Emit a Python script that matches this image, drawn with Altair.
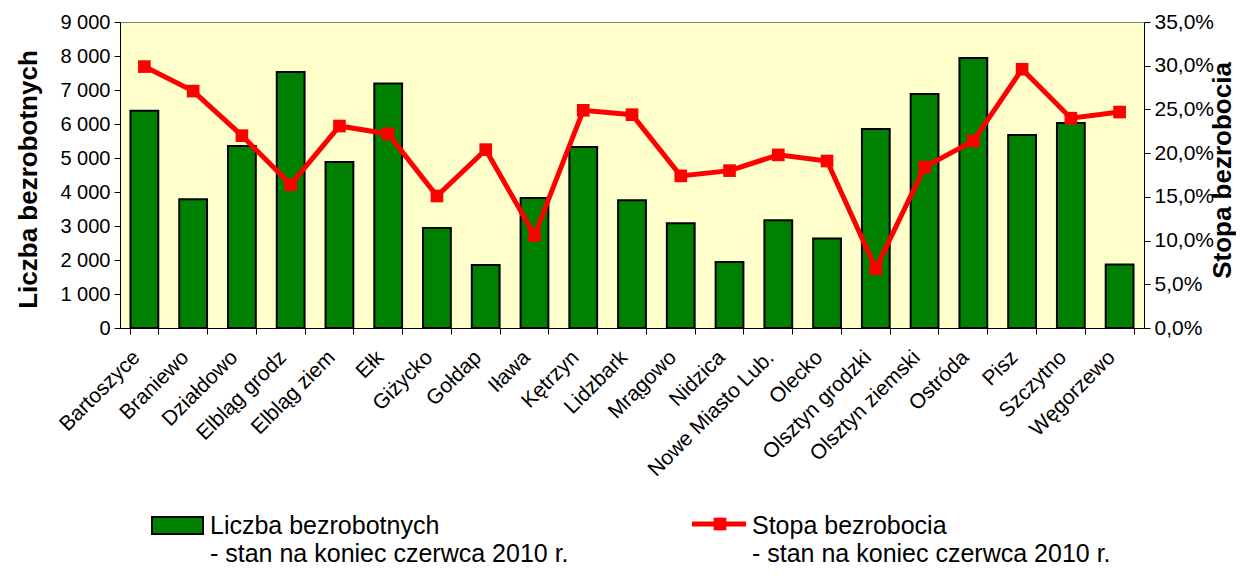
import altair as alt
import pandas as pd

categories = ["Bartoszyce", "Braniewo", "Działdowo", "Elbląg grodz", "Elbląg ziem", "Ełk",
              "Giżycko", "Gołdap", "Iława", "Kętrzyn", "Lidzbark", "Mrągowo", "Nidzica",
              "Nowe Miasto Lub.", "Olecko", "Olsztyn grodzki", "Olsztyn ziemski", "Ostróda",
              "Pisz", "Szczytno", "Węgorzewo"]
unemployed = [6390, 3790, 5350, 7530, 4880, 7190, 2940, 1850, 3820, 5320, 3760, 3080, 1940,
              3170, 2630, 5850, 6880, 7940, 5680, 6030, 1870]
rate = [29.9, 27.1, 22.0, 16.4, 23.1, 22.2, 15.1, 20.4, 10.6, 24.9, 24.4, 17.4, 18.0,
        19.8, 19.1, 6.8, 18.4, 21.4, 29.6, 24.0, 24.7]
left_ticks = [0, 1000, 2000, 3000, 4000, 5000, 6000, 7000, 8000, 9000]
right_ticks = [0, 5, 10, 15, 20, 25, 30, 35]
legend_bar = ["Liczba bezrobotnych", "- stan na koniec czerwca 2010 r."]
legend_line = ["Stopa bezrobocia", "- stan na koniec czerwca 2010 r."]

df = pd.DataFrame({"powiat": categories, "liczba": unemployed, "stopa": rate})

FONT = "Liberation Sans"
W, H = 1024, 306

xenc = alt.X("powiat:N", sort=categories,
             scale=alt.Scale(paddingInner=0.43, paddingOuter=0.215),
             axis=alt.Axis(title=None, labelAngle=315, labelAlign="right", labelBaseline="middle",
                           labelFontSize=21, labelFont=FONT, labelColor="black",
                           labelPadding=20, labelOffset=-8, tickBand="extent", tickSize=6,
                           tickColor="black", domainColor="black", labelOverlap=False,
                           labelLimit=400))

bars = alt.Chart(df).mark_bar(color="#008000", stroke="black", strokeWidth=2).encode(
    x=xenc,
    y=alt.Y("liczba:Q", scale=alt.Scale(domain=[0, 9000], nice=False),
            axis=alt.Axis(values=left_ticks, title="Liczba bezrobotnych",
                          labelExpr="replace(format(datum.value, ','), ',', ' ')",
                          labelFontSize=20, labelFont=FONT, labelColor="black",
                          titleFont=FONT, titleFontSize=26, titleFontWeight="bold",
                          titleColor="black", titleAngle=270, titleX=-92, titleY=157,
                          titleAlign="center", titleBaseline="middle",
                          tickSize=6, tickColor="black", domainColor="black",
                          grid=False, labelPadding=4)),
)

line = alt.Chart(df).mark_line(
    color="#FF0000", strokeWidth=5,
    point=alt.OverlayMarkDef(shape="square", size=160, filled=True, color="#FF0000", opacity=1),
).encode(
    x=alt.X("powiat:N", sort=categories),
    y=alt.Y("stopa:Q", scale=alt.Scale(domain=[0, 35], nice=False),
            axis=alt.Axis(orient="right", values=right_ticks, title="Stopa bezrobocia",
                          labelExpr="replace(format(datum.value, '.1f'), '.', ',') + '%'",
                          labelFontSize=21, labelFont=FONT, labelColor="black",
                          titleFont=FONT, titleFontSize=26, titleFontWeight="bold",
                          titleColor="black", titleAngle=270, titleX=78, titleY=148,
                          titleAlign="center", titleBaseline="middle",
                          tickSize=6, tickColor="black", domainColor="black",
                          grid=False, labelPadding=4)),
)

one = pd.DataFrame({"k": [0]})
ly0 = 512  # first legend line baseline in view coords

leg_rect = alt.Chart(one).mark_rect(color="#008000", stroke="black", strokeWidth=2).encode(
    x=alt.value(32), x2=alt.value(83), y=alt.value(495), y2=alt.value(512))
leg_text1 = alt.Chart(one).mark_text(text=legend_bar, font=FONT, fontSize=25, align="left",
                                     baseline="alphabetic", lineHeight=28, color="black").encode(
    x=alt.value(90), y=alt.value(ly0))
leg_line = alt.Chart(one).mark_rule(color="#FF0000", strokeWidth=5).encode(
    x=alt.value(572), x2=alt.value(626), y=alt.value(502))
leg_pt = alt.Chart(one).mark_point(shape="square", size=160, filled=True, color="#FF0000",
                                   opacity=1).encode(x=alt.value(600), y=alt.value(502))
leg_text2 = alt.Chart(one).mark_text(text=legend_line, font=FONT, fontSize=25, align="left",
                                     baseline="alphabetic", lineHeight=28, color="black").encode(
    x=alt.value(632), y=alt.value(ly0))

chart = alt.layer(bars, line, leg_rect, leg_text1, leg_line, leg_pt, leg_text2).resolve_scale(
    y="independent"
).properties(
    width=W, height=H,
    autosize=alt.AutoSizeParams(type="none"),
    padding={"left": 112, "top": 14, "right": 92, "bottom": 240},
    background="white",
).configure_view(fill="#FFFFCC", stroke="#808080", strokeWidth=1)

chart.save("out.html", embed_options={"renderer": "svg", "actions": False})
